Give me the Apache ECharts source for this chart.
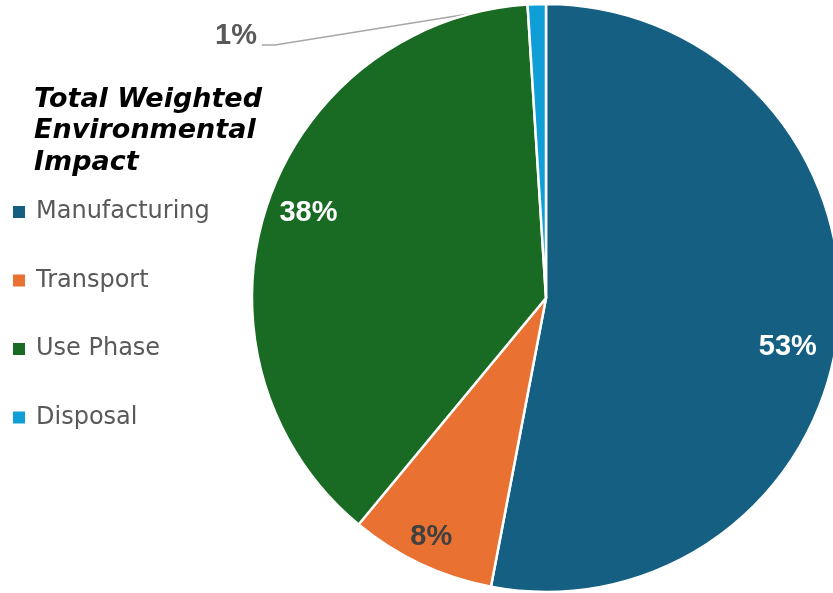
<!DOCTYPE html>
<html>
<head>
<meta charset="utf-8">
<title>Total Weighted Environmental Impact</title>
<script src="https://cdn.jsdelivr.net/npm/echarts@6/dist/echarts.min.js"></script>
<style>
  html, body { margin: 0; padding: 0; background: #ffffff; }
  #chart { width: 833px; height: 593px; }
</style>
</head>
<body>
<div id="chart"></div>
<script>
// Life-cycle phases and their share of the weighted impact (percent)
const phases = ['Manufacturing', 'Transport', 'Use Phase', 'Disposal'];
const shares = [53, 8, 38, 1];
const phaseColors = ['#156082', '#E97132', '#196B24', '#0F9ED5'];
const labelColors = ['#ffffff', '#404040', '#ffffff', '#595959'];
const titleLines = ['Total Weighted', 'Environmental', 'Impact'];

// small nudges for the in-slice percentage labels
const labelNudge = [[-10, 25], [-7, 10], [3, -7], [0, 0]];

const chart = echarts.init(document.getElementById('chart'), null, { renderer: 'canvas' });

const R = 294;
const CENTER = [546, 298];
const START_ANGLE = 90;

// point on the rim where a slice begins (clockwise from 12 o'clock)
function sliceStartOnRim(index) {
  const total = shares.reduce((a, b) => a + b, 0);
  const before = shares.slice(0, index).reduce((a, b) => a + b, 0);
  const theta = (before / total) * 2 * Math.PI;
  return [CENTER[0] + R * Math.sin(theta), CENTER[1] - R * Math.cos(theta)];
}

const sliceData = phases.map((name, i) => ({
  name: name,
  value: shares[i],
  itemStyle: { color: phaseColors[i] },
  label: {
    show: i === 3,
    color: labelColors[i]
  }
}));

// transparent ring carrying the in-slice labels at ~85% of the radius
const labelRingData = phases.map((name, i) => ({
  name: name,
  value: shares[i],
  itemStyle: { color: 'rgba(0,0,0,0)', borderWidth: 0 },
  label: {
    show: i !== 3,
    color: labelColors[i]
  }
}));

const pctFont = {
  fontFamily: 'Liberation Sans, Arial, sans-serif',
  fontWeight: 'bold',
  fontSize: 29,
  formatter: '{c}%'
};

chart.setOption({
  animation: false,
  title: {
    text: titleLines.join('\n'),
    left: 29,
    top: 79,
    textStyle: {
      fontFamily: 'DejaVu Sans, sans-serif',
      fontStyle: 'italic',
      fontWeight: 'bold',
      fontSize: 27,
      lineHeight: 31.5,
      color: '#000000'
    }
  },
  legend: {
    orient: 'vertical',
    left: 8,
    top: 195,
    icon: 'rect',
    itemWidth: 12,
    itemHeight: 12,
    itemGap: 44.5,
    data: phases,
    itemStyle: { borderWidth: 0 },
    textStyle: {
      fontFamily: 'DejaVu Sans, sans-serif',
      fontSize: 24,
      lineHeight: 24,
      color: '#595959',
      padding: [0, 0, 0, 6]
    }
  },
  series: [
    {
      type: 'pie',
      center: CENTER,
      radius: R,
      startAngle: START_ANGLE,
      clockwise: true,
      avoidLabelOverlap: false,
      silent: true,
      itemStyle: { borderColor: '#ffffff', borderWidth: 2.5 },
      label: Object.assign({ position: 'outside' }, pctFont),
      labelLine: {
        show: true,
        showAbove: true,
        length: 6,
        length2: 12,
        lineStyle: { color: '#A6A6A6', width: 1.5 }
      },
      labelLayout: function (p) {
        if (p.dataIndex === 3) {
          // detached callout for the thin Disposal slice
          const rim = sliceStartOnRim(3);
          return {
            x: 257, y: 36, align: 'right', verticalAlign: 'middle',
            labelLinePoints: [rim, [275, 45], [262, 45]]
          };
        }
        return {};
      },
      data: sliceData
    },
    {
      type: 'pie',
      center: CENTER,
      radius: [R * 0.7, R],
      startAngle: START_ANGLE,
      clockwise: true,
      silent: true,
      avoidLabelOverlap: false,
      label: Object.assign({ position: 'inside' }, pctFont),
      labelLine: { show: false },
      labelLayout: function (p) {
        const n = labelNudge[p.dataIndex];
        return { dx: n[0], dy: n[1] };
      },
      data: labelRingData
    }
  ]
});
</script>
</body>
</html>
